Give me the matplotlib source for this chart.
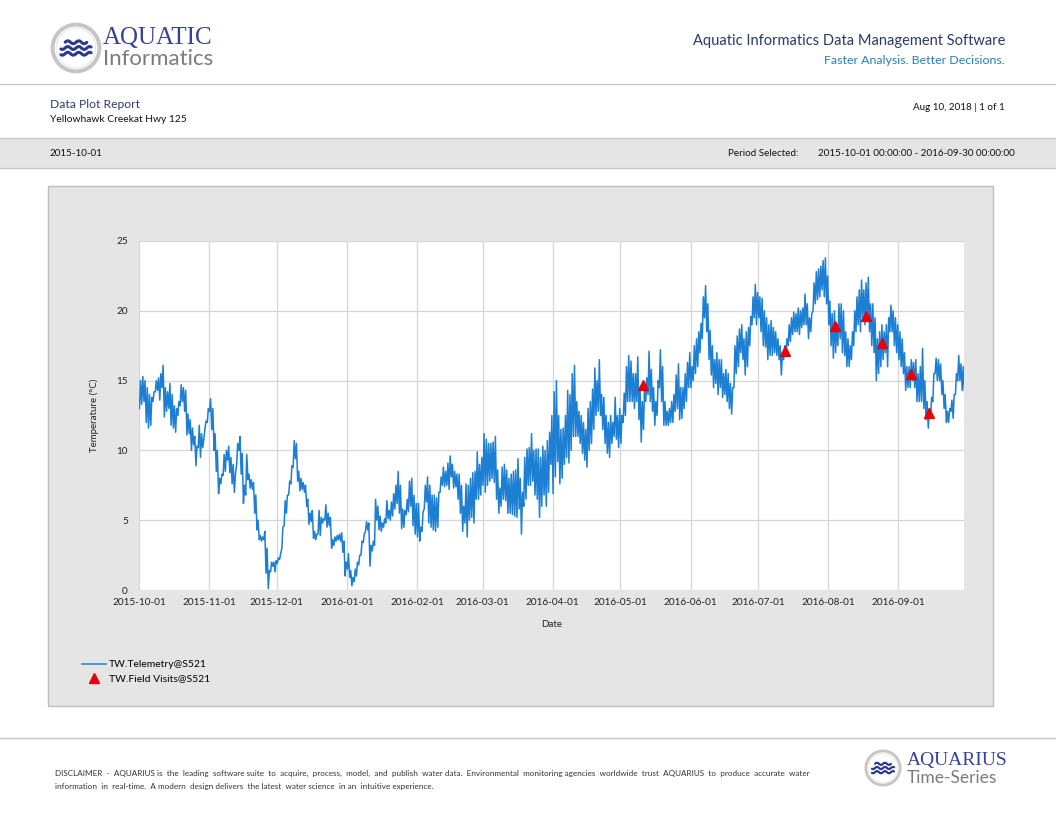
import matplotlib
matplotlib.use("Agg")
import matplotlib.pyplot as plt
import matplotlib.dates as mdates
from matplotlib.patches import Rectangle, Circle
from matplotlib.lines import Line2D
import numpy as np
import pandas as pd

# daily low / high water temperature (deg C)
oct_lo = [13.0, 13.3, 13.5, 12.0, 11.6, 11.8, 13.5, 14.2, 14.3, 13.6, 14.5, 12.4, 12.8, 13.0, 11.8, 11.6,
          11.3, 12.5, 13.2, 13.5, 12.8, 11.1, 11.2, 10.0, 10.4, 8.9, 10.2, 9.5, 10.2, 11.6, 12.0]
oct_hi = [15.0, 15.3, 15.0, 14.5, 14.0, 13.8, 14.2, 15.0, 15.2, 15.5, 16.1, 14.5, 14.2, 14.8, 14.0, 13.2,
          13.0, 13.5, 14.7, 14.5, 14.3, 12.6, 12.2, 11.6, 11.0, 10.3, 11.8, 11.2, 10.8, 12.1, 13.0]
nov_lo = [12.8, 11.5, 10.0, 8.5, 6.9, 7.6, 8.2, 8.5, 9.3, 8.4, 7.6, 7.0, 9.0, 10.0, 8.3, 6.2,
          6.8, 7.9, 7.3, 7.2, 5.5, 4.3, 3.6, 3.5, 3.6, 1.2, 0.1, 1.3, 1.7, 1.3]
nov_hi = [13.7, 13.0, 11.2, 10.0, 8.0, 8.3, 9.7, 10.0, 10.3, 9.5, 9.0, 8.3, 10.5, 11.0, 9.8, 7.5,
          9.7, 8.3, 7.9, 7.7, 6.8, 5.0, 3.9, 3.8, 4.2, 3.0, 1.4, 2.0, 2.0, 2.1]
dec_lo = [1.9, 2.2, 3.0, 4.6, 5.5, 6.8, 7.6, 8.8, 9.4, 7.8, 7.1, 7.2, 7.0, 6.0, 4.7, 4.9,
          3.7, 3.6, 4.0, 3.9, 4.8, 5.0, 4.5, 4.6, 3.0, 3.2, 3.5, 3.6, 3.5, 2.7, 1.0]
dec_hi = [2.3, 2.6, 4.5, 6.4, 6.8, 7.8, 8.9, 10.7, 10.5, 8.5, 8.0, 7.7, 7.5, 6.5, 5.5, 5.7,
          4.2, 4.0, 5.7, 5.2, 5.1, 6.1, 5.5, 5.2, 3.6, 3.8, 3.9, 4.0, 4.1, 3.5, 2.0]
jan_lo = [1.5, 0.9, 0.3, 0.6, 1.0, 1.8, 2.5, 3.4, 4.2, 4.3, 1.7, 2.8, 3.2, 5.0, 4.3, 4.2,
          4.5, 4.8, 5.1, 5.0, 5.3, 5.8, 6.2, 5.5, 4.4, 4.5, 5.4, 5.6, 6.0, 4.6, 4.0]
jan_hi = [2.6, 1.4, 0.9, 1.5, 2.0, 2.5, 3.5, 4.0, 4.9, 4.8, 3.2, 3.5, 6.5, 6.0, 5.3, 4.8,
          5.1, 6.4, 5.7, 6.3, 6.9, 7.5, 8.5, 7.5, 5.8, 5.7, 6.5, 7.8, 8.0, 6.8, 6.2]
feb_lo = [3.8, 3.5, 4.2, 5.8, 6.3, 4.8, 4.5, 4.3, 4.2, 4.5, 7.0, 7.5, 7.4, 7.5, 7.2, 8.1,
          7.3, 7.4, 6.5, 5.5, 4.2, 4.8, 3.8, 5.0, 5.2, 4.8, 6.5, 6.5, 6.8]
feb_hi = [6.2, 4.5, 5.6, 7.5, 8.1, 7.5, 6.8, 6.8, 6.6, 7.0, 8.1, 8.8, 8.5, 9.1, 9.6, 9.0,
          8.5, 8.3, 8.3, 7.5, 6.0, 7.6, 7.5, 8.0, 8.4, 8.5, 9.9, 9.0, 9.5]
mar_lo = [7.5, 7.0, 7.5, 7.8, 8.0, 7.7, 6.5, 5.5, 6.0, 6.5, 6.4, 5.5, 5.5, 5.4, 5.3, 5.2,
          5.8, 4.0, 6.0, 6.5, 7.5, 7.5, 7.8, 6.8, 6.5, 5.2, 6.0, 6.8, 6.0, 7.0, 9.0]
mar_hi = [11.2, 10.8, 10.5, 10.5, 10.6, 11.0, 8.6, 7.3, 8.8, 9.0, 8.6, 8.0, 8.3, 8.5, 8.6, 9.4,
          8.0, 7.0, 9.5, 10.1, 10.2, 11.2, 10.0, 10.1, 10.1, 9.5, 10.3, 10.0, 10.7, 11.3, 12.5]
apr_lo = [6.9, 8.1, 9.2, 7.6, 8.0, 9.0, 9.5, 9.1, 10.0, 11.0, 11.0, 11.0, 10.5, 9.8, 9.3,
          8.8, 10.0, 10.5, 11.5, 12.5, 12.8, 12.5, 11.5, 10.5, 9.8, 9.5, 10.5, 11.0, 10.8, 10.2]
apr_hi = [14.2, 15.0, 12.5, 11.5, 11.6, 12.5, 14.3, 14.0, 15.5, 16.1, 13.5, 12.8, 12.5, 12.0, 11.5,
          13.0, 13.5, 14.4, 15.9, 15.0, 16.5, 14.0, 13.8, 12.5, 12.0, 12.5, 12.0, 13.8, 12.5, 13.0]
may_lo = [10.5, 12.0, 12.5, 13.5, 13.5, 13.5, 13.0, 13.5, 12.2, 10.6, 11.5, 13.5, 14.0, 13.5, 12.8, 11.8,
          12.5, 14.5, 13.5, 11.8, 11.8, 11.8, 12.0, 12.0, 12.8, 13.0, 12.2, 12.3, 13.0, 13.5, 14.5]
may_hi = [12.5, 14.1, 16.0, 16.8, 16.4, 15.5, 15.5, 16.7, 14.5, 13.5, 14.6, 15.2, 17.1, 15.8, 14.5, 13.5,
          15.0, 17.2, 16.0, 13.5, 12.8, 13.0, 13.5, 14.0, 15.4, 16.2, 14.5, 14.5, 15.5, 16.3, 17.0]
jun_lo = [14.5, 15.0, 15.5, 16.0, 17.0, 18.0, 19.5, 18.5, 16.5, 15.4, 14.5, 14.8, 14.0, 14.5, 13.8,
          14.0, 13.5, 13.0, 12.6, 14.5, 15.5, 16.0, 17.0, 16.5, 15.4, 16.0, 17.5, 19.0, 19.5, 19.0]
jun_hi = [16.0, 17.5, 18.0, 18.5, 19.1, 21.0, 21.8, 20.5, 18.6, 17.5, 16.5, 17.0, 16.5, 16.5, 15.5,
          15.8, 15.5, 14.8, 14.5, 17.5, 18.2, 18.7, 19.0, 18.0, 18.5, 18.8, 19.6, 21.0, 21.9, 21.3]
jul_lo = [19.5, 18.5, 17.5, 17.4, 16.5, 16.8, 16.8, 17.0, 16.8, 16.5, 15.4, 16.5, 17.0, 17.5, 17.8, 18.3,
          18.5, 18.5, 18.3, 18.8, 19.0, 19.0, 18.0, 18.5, 20.0, 20.5, 20.8, 21.0, 21.5, 21.0, 20.5]
jul_hi = [21.0, 20.9, 20.0, 19.5, 19.0, 19.3, 18.8, 18.5, 18.0, 17.5, 17.0, 17.5, 18.0, 19.0, 19.5, 19.9,
          19.8, 20.2, 20.0, 20.2, 21.2, 20.5, 19.5, 19.8, 22.0, 22.8, 23.0, 23.2, 23.6, 23.8, 22.5]
aug_lo = [19.0, 17.5, 16.6, 17.0, 17.5, 18.0, 17.0, 16.8, 16.0, 16.0, 16.5, 17.5, 18.5, 19.0, 18.5, 19.5,
          19.0, 19.5, 18.5, 17.5, 17.0, 15.0, 15.5, 16.0, 16.5, 17.0, 16.0, 18.5, 18.5, 17.5, 17.0]
aug_hi = [20.7, 19.8, 20.0, 19.0, 20.5, 20.5, 20.0, 18.5, 18.0, 17.5, 18.5, 20.0, 21.0, 21.5, 22.2, 21.5,
          22.0, 22.4, 20.5, 20.5, 19.5, 18.0, 18.5, 19.0, 18.5, 19.0, 19.5, 20.4, 20.0, 19.5, 19.0]
sep_lo = [16.5, 16.0, 15.5, 14.3, 14.5, 14.5, 15.0, 14.5, 13.5, 13.5, 13.5, 13.0, 12.2, 11.6, 12.3,
          13.5, 15.5, 15.0, 15.0, 14.0, 13.0, 12.0, 12.0, 12.8, 12.3, 14.0, 15.0, 15.0, 14.3, 14.2]
sep_hi = [18.5, 18.0, 17.0, 16.0, 16.0, 16.5, 16.3, 16.5, 15.5, 16.0, 17.3, 15.0, 13.5, 13.0, 13.8,
          15.5, 16.6, 16.5, 16.2, 15.0, 14.0, 12.8, 13.0, 13.6, 14.0, 15.5, 16.8, 16.2, 16.0, 15.8]

month_starts = ["2015-10-01", "2015-11-01", "2015-12-01", "2016-01-01", "2016-02-01", "2016-03-01",
                "2016-04-01", "2016-05-01", "2016-06-01", "2016-07-01", "2016-08-01", "2016-09-01"]
month_lo = [oct_lo, nov_lo, dec_lo, jan_lo, feb_lo, mar_lo, apr_lo, may_lo, jun_lo, jul_lo, aug_lo, sep_lo]
month_hi = [oct_hi, nov_hi, dec_hi, jan_hi, feb_hi, mar_hi, apr_hi, may_hi, jun_hi, jul_hi, aug_hi, sep_hi]

# field visit readings
visit_times = ["2016-05-10 21:00", "2016-07-12 19:00", "2016-08-03 22:00", "2016-08-17 14:00",
               "2016-08-24 19:00", "2016-09-06 17:00", "2016-09-14 12:00"]
visit_temps = [14.7, 17.1, 18.9, 19.6, 17.7, 15.5, 12.7]

W, H = 1056, 816
BODY = ["Lato", "DejaVu Sans"]
plt.rcParams["font.family"] = BODY


def fx(x):
    return x / W


def fy(y):
    return 1 - y / H


# build the telemetry series: low in the early morning, high in the afternoon
times, temps = [], []
for start, lo, hi in zip(month_starts, month_lo, month_hi):
    days = pd.date_range(start, periods=len(lo), freq="D")
    for d, a, b in zip(days, lo, hi):
        times += [d + pd.Timedelta(hours=5), d + pd.Timedelta(hours=16)]
        temps += [a, b]
telemetry = pd.Series(temps, index=pd.DatetimeIndex(times))
visits = pd.Series(visit_temps, index=pd.to_datetime(visit_times))

fig = plt.figure(figsize=(W / 100, H / 100), dpi=100)
fig.patch.set_facecolor("white")


def hline(y, x0=0, x1=W):
    fig.add_artist(Line2D([fx(x0), fx(x1)], [fy(y), fy(y)], color="#c8c8c8", lw=1.0, zorder=-3))


def draw_logo(cx, cy, r):
    lax = fig.add_axes([fx(cx - r), fy(cy + r), 2 * r / W, 2 * r / H])
    lax.set_xlim(-1, 1)
    lax.set_ylim(-1, 1)
    lax.axis("off")
    lax.add_patch(Circle((0, 0), 0.9, fc="white", ec="#c6c6c6", lw=r * 0.11))
    lax.add_patch(Circle((0, 0), 0.76, fc="none", ec="#ececec", lw=r * 0.04))
    xs = np.linspace(-0.58, 0.58, 120)
    for off, half in [(0.22, 0.42), (0.0, 0.58), (-0.22, 0.58)]:
        m = np.abs(xs) <= half
        lax.plot(xs[m], off + 0.055 * np.sin(xs[m] * 2 * np.pi / 0.42), color="#2b3a8f",
                 lw=r * 0.085, solid_capstyle="round")


# ---- header ----
draw_logo(76, 48, 26)
fig.text(fx(103), fy(38), "AQUATIC", family=["Liberation Serif"], fontsize=18,
         color="#34449a", va="center", ha="left")
fig.text(fx(103), fy(59), "Informatics", fontsize=16, color="#7b7b7b", va="center", ha="left")
fig.text(fx(1005), fy(41), "Aquatic Informatics Data Management Software", fontsize=10.5,
         color="#2c3866", ha="right", va="center")
fig.text(fx(1005), fy(60), "Faster Analysis. Better Decisions.", fontsize=8.9,
         color="#2382b8", ha="right", va="center")
hline(84)

fig.text(fx(50), fy(104), "Data Plot Report", fontsize=8.7, color="#2f3e6c", va="center")
fig.text(fx(50), fy(119), "Yellowhawk Creekat Hwy 125", fontsize=7.4, color="#111111", va="center")
fig.text(fx(1005), fy(107), "Aug 10, 2018 | 1 of 1", fontsize=7.1, color="#111111",
         ha="right", va="center")

fig.add_artist(Rectangle((0, fy(168)), 1, (168 - 138) / H, transform=fig.transFigure,
                         fc="#e5e5e5", ec="none", zorder=-4))
hline(138)
hline(168)
fig.text(fx(50), fy(153), "2015-10-01", fontsize=7.1, color="#111111", va="center")
fig.text(fx(728), fy(153), "Period Selected:", fontsize=7.1, color="#111111", va="center")
fig.text(fx(1015), fy(153), "2015-10-01 00:00:00 - 2016-09-30 00:00:00", fontsize=7.1,
         color="#111111", va="center", ha="right")

# ---- chart panel ----
fig.add_artist(Rectangle((fx(48), fy(706)), (993 - 48) / W, (706 - 186) / H,
                         transform=fig.transFigure, fc="#e5e5e5", ec="#bdbdbd", lw=1.0, zorder=-4))

ax = fig.add_axes([fx(139), fy(590), (964 - 139) / W, (590 - 241) / H])
ax.set_facecolor("white")
ax.plot(telemetry.index, telemetry.values, color="#1c7fd3", lw=1.1,
        label="TW.Telemetry@S521", zorder=3)
ax.plot(visits.index, visits.values, linestyle="none", marker="^", markersize=7,
        color="#e8000b", label="TW.Field Visits@S521", zorder=4)

ax.set_xlim(pd.Timestamp("2015-10-01"), pd.Timestamp("2016-09-30"))
ax.set_ylim(0, 25)
ax.set_yticks([0, 5, 10, 15, 20, 25])
ax.xaxis.set_major_locator(mdates.MonthLocator())
ax.xaxis.set_major_formatter(mdates.DateFormatter("%Y-%m-%d"))
ax.tick_params(axis="both", length=0, labelsize=7.2, colors="#222222")
ax.tick_params(axis="y", pad=8)
ax.tick_params(axis="x", pad=6)
ax.grid(True, color="#d6d6d6", lw=0.9)
ax.set_axisbelow(True)
for s in ax.spines.values():
    s.set_visible(False)

ax.set_xlabel("Date", fontsize=7, color="#222222")
ax.set_ylabel("Temperature (°C)", fontsize=7, color="#222222")
ax.xaxis.set_label_coords(0.5, -0.085)
ax.yaxis.set_label_coords(-0.048, 0.5)

ax.legend(loc="upper left", bbox_to_anchor=(fx(82), fy(660)), bbox_transform=fig.transFigure,
          frameon=False, fontsize=7.5, handlelength=2.3, handletextpad=0.3, borderpad=0,
          borderaxespad=0, labelspacing=0.45)

# ---- footer ----
hline(738)
fig.text(fx(55), fy(773),
         "DISCLAIMER  -  AQUARIUS is  the  leading  software suite  to  acquire,  process,  model,  and  "
         "publish  water data.  Environmental  monitoring agencies  worldwide  trust  AQUARIUS  to  produce  "
         "accurate  water", fontsize=5.9, color="#333333", va="center")
fig.text(fx(55), fy(786),
         "information  in  real-time.  A modern  design delivers  the latest  water science  in an  "
         "intuitive experience.", fontsize=5.9, color="#333333", va="center")
draw_logo(883, 768, 19)
fig.text(fx(907), fy(761), "AQUARIUS", family=["Liberation Serif"], fontsize=14,
         color="#34449a", va="center", ha="left")
fig.text(fx(907), fy(778), "Time-Series", fontsize=12.5, color="#7b7b7b", va="center", ha="left")

fig.savefig("out.png", dpi=100)
